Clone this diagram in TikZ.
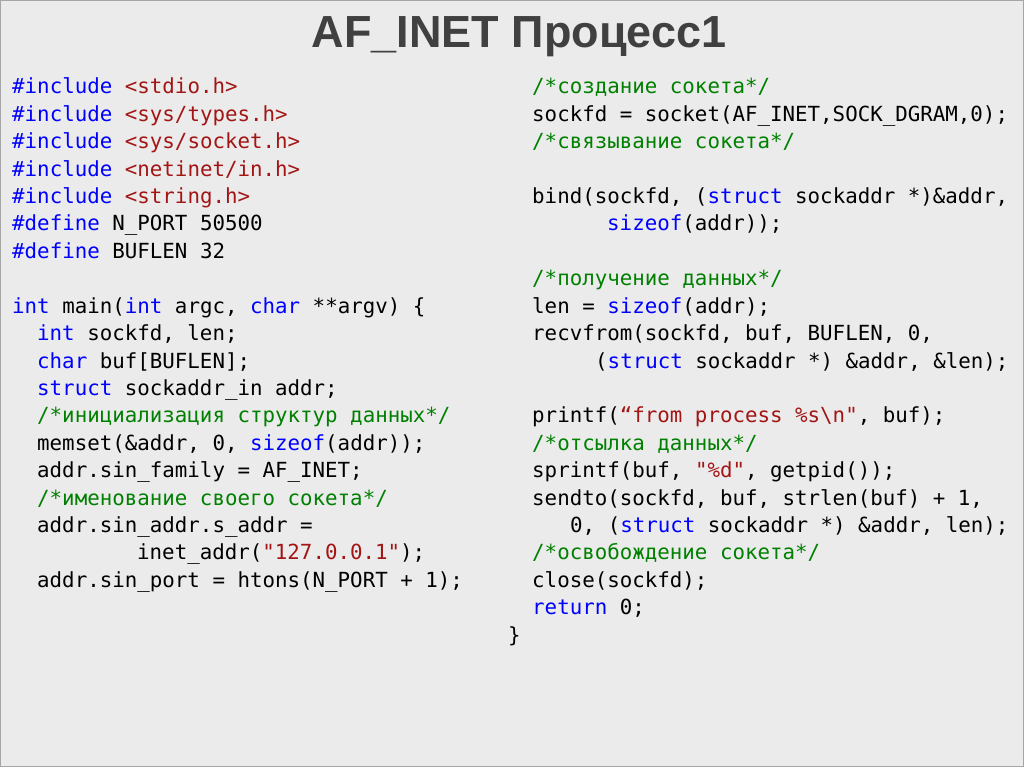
\documentclass[tikz,border=0pt]{standalone}
\usepackage{fontspec}
\setmainfont{Liberation Sans}
\newfontfamily\codefont{DejaVu Sans Mono}[Scale=1]
\definecolor{bgc}{HTML}{EBEBEB}
\definecolor{kwc}{HTML}{0000FF}
\definecolor{stc}{HTML}{A31515}
\definecolor{cmc}{HTML}{008000}
\definecolor{tic}{HTML}{404040}
\newcommand\Kw[1]{\textcolor{kwc}{#1}}
\newcommand\Str[1]{\textcolor{stc}{#1}}
\newcommand\Cm[1]{\textcolor{cmc}{#1}}
\begin{document}
\begin{tikzpicture}[x=1pt,y=-1pt,
  code/.style={anchor=base west,inner sep=0pt,font=\codefont\fontsize{20.8}{24}\selectfont,text=black}]
\fill[bgc] (0,0) rectangle (1024,767);
\draw[black!35,line width=1pt] (0.5,0.5) rectangle (1023.5,766.5);
\node[font=\bfseries\fontsize{45}{50}\selectfont,text=tic] (title) at (519,37) {AF\_INET Процесс1};
\def\L#1{94+#1*27.4}
\node[code] (l0) at (12,{\L0}) {\Kw{\#include} \Str{<stdio.h>}};
\node[code] (l1) at (12,{\L1}) {\Kw{\#include} \Str{<sys/types.h>}};
\node[code] (l2) at (12,{\L2}) {\Kw{\#include} \Str{<sys/socket.h>}};
\node[code] (l3) at (12,{\L3}) {\Kw{\#include} \Str{<netinet/in.h>}};
\node[code] (l4) at (12,{\L4}) {\Kw{\#include} \Str{<string.h>}};
\node[code] (l5) at (12,{\L5}) {\Kw{\#define} N\_PORT 50500};
\node[code] (l6) at (12,{\L6}) {\Kw{\#define} BUFLEN 32};
\node[code] (l8) at (12,{\L8}) {\Kw{int} main(\Kw{int} argc, \Kw{char} **argv) \{};
\node[code] (l9) at (37,{\L9}) {\Kw{int} sockfd, len;};
\node[code] (l10) at (37,{\L{10}}) {\Kw{char} buf[BUFLEN];};
\node[code] (l11) at (37,{\L{11}}) {\Kw{struct} sockaddr\_in addr;};
\node[code] (l12) at (37,{\L{12}}) {\Cm{/*инициализация структур данных*/}};
\node[code] (l13) at (37,{\L{13}}) {memset(\&addr, 0, \Kw{sizeof}(addr));};
\node[code] (l14) at (37,{\L{14}}) {addr.sin\_family = AF\_INET;};
\node[code] (l15) at (37,{\L{15}}) {\Cm{/*именование своего сокета*/}};
\node[code] (l16) at (37,{\L{16}}) {addr.sin\_addr.s\_addr =};
\node[code] (l17) at (137,{\L{17}}) {inet\_addr(\Str{"127.0.0.1"});};
\node[code] (l18) at (37,{\L{18}}) {addr.sin\_port = htons(N\_PORT + 1);};
\node[code] (r0) at (532,{\L0}) {\Cm{/*создание сокета*/}};
\node[code] (r1) at (532,{\L1}) {sockfd = socket(AF\_INET,SOCK\_DGRAM,0);};
\node[code] (r2) at (532,{\L2}) {\Cm{/*связывание сокета*/}};
\node[code] (r4) at (532,{\L4}) {bind(sockfd, (\Kw{struct} sockaddr *)\&addr,};
\node[code] (r5) at (607,{\L5}) {\Kw{sizeof}(addr));};
\node[code] (r7) at (532,{\L7}) {\Cm{/*получение данных*/}};
\node[code] (r8) at (532,{\L8}) {len = \Kw{sizeof}(addr);};
\node[code] (r9) at (532,{\L9}) {recvfrom(sockfd, buf, BUFLEN, 0,};
\node[code] (r10) at (595,{\L{10}}) {(\Kw{struct} sockaddr *) \&addr, \&len);};
\node[code] (r12) at (532,{\L{12}}) {printf(\Str{“from process \%s\textbackslash n"}, buf);};
\node[code] (r13) at (532,{\L{13}}) {\Cm{/*отсылка данных*/}};
\node[code] (r14) at (532,{\L{14}}) {sprintf(buf, \Str{"\%d"}, getpid());};
\node[code] (r15) at (532,{\L{15}}) {sendto(sockfd, buf, strlen(buf) + 1,};
\node[code] (r16) at (570,{\L{16}}) {0, (\Kw{struct} sockaddr *) \&addr, len);};
\node[code] (r17) at (532,{\L{17}}) {\Cm{/*освобождение сокета*/}};
\node[code] (r18) at (532,{\L{18}}) {close(sockfd);};
\node[code] (r19) at (532,{\L{19}}) {\Kw{return} 0;};
\node[code] (r20) at (508,{\L{20}}) {\}};
\end{tikzpicture}
\end{document}
